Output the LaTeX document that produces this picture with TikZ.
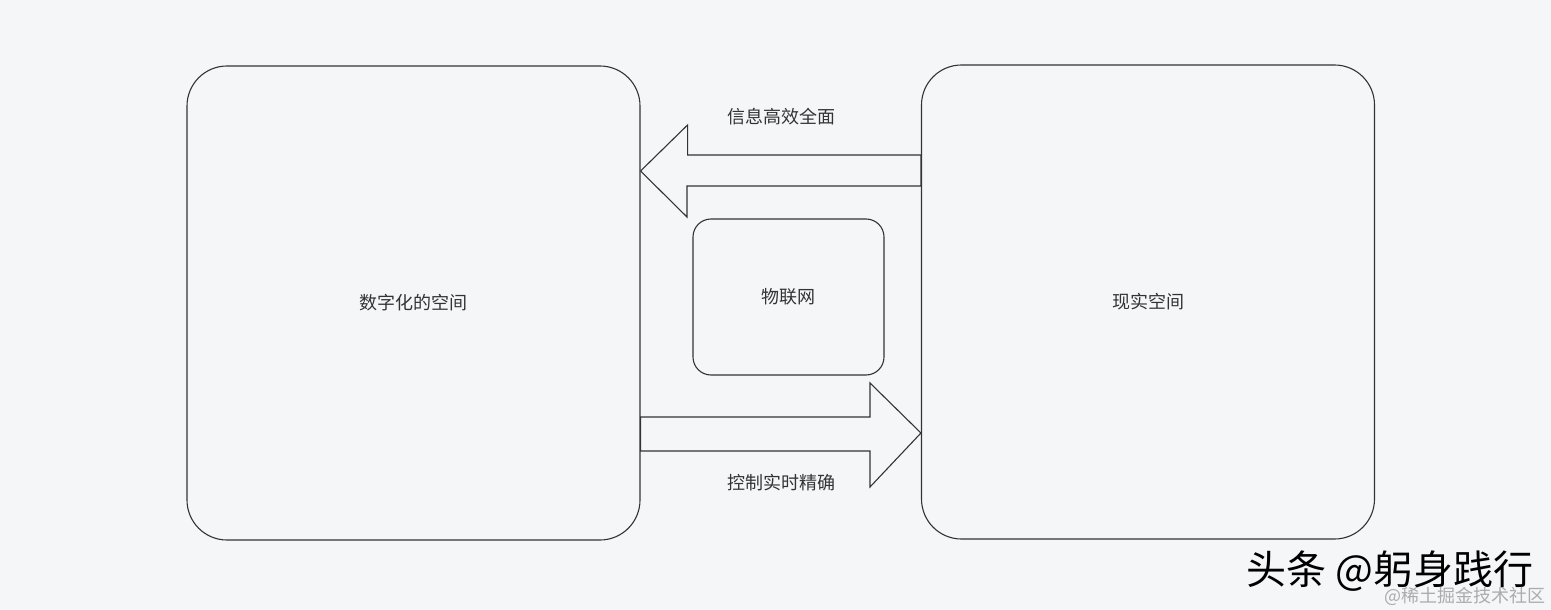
\documentclass[tikz,border=0pt]{standalone}
\usepackage{fontspec}
\setmainfont{Noto Sans CJK SC}
\newfontfamily\cjk{Noto Sans CJK SC}
\definecolor{bg}{HTML}{F5F6F7}
\definecolor{ln}{HTML}{333333}
\definecolor{tx}{HTML}{333333}
\begin{document}
\begin{tikzpicture}[x=1pt,y=-1pt,
  bigbox/.style={draw=ln,line width=1.1pt,rounded corners=40pt,minimum width=453pt,minimum height=474pt,inner sep=0pt},
  midbox/.style={draw=ln,line width=1.1pt,rounded corners=18pt,minimum width=191pt,minimum height=156pt,inner sep=0pt},
  lbl/.style={text=tx,font=\cjk\fontsize{18pt}{20pt}\selectfont,inner sep=0pt},
  fatarrow/.style={draw=ln,line width=1.1pt,fill=bg,line join=miter}]
\fill[bg] (0,0) rectangle (1551,610);
\useasboundingbox (0,0) rectangle (1551,610);
\node[bigbox] (digital) at (413.5,303) {};
\node[bigbox] (real) at (1148,302) {};
\node[midbox] (iot) at (788.5,297) {};
\node[lbl] (tdig) at (digital.center) {数字化的空间};
\node[lbl] (treal) at (real.center) {现实空间};
\node[lbl] (tiot) at (iot.center) {物联网};
% top arrow (right to left)
\coordinate (ta) at (digital.east |- 0,171);
\draw[fatarrow] (ta) -- ++(47,-46) -- ++(0,30) -- (real.west |- 0,155) -- (real.west |- 0,186) -- (687,186) -- (687,217) -- cycle;
% bottom arrow (left to right)
\coordinate (ba) at (real.west |- 0,433);
\draw[fatarrow] (digital.east |- 0,417) -- (870,417) -- (870,383) -- (ba) -- (870,487) -- (870,451) -- (digital.east |- 0,451) -- cycle;
\node[lbl] (ttop) at (781,117) {信息高效全面};
\node[lbl] (tbot) at (781,483) {控制实时精确};
% watermark
\node[text=black,font=\cjk\fontsize{40pt}{42pt}\selectfont,inner sep=0pt,anchor=west] (wm) at (1246,571) {头条 @躬身践行};
\node[text=gray!65,font=\cjk\fontsize{18pt}{19pt}\selectfont,inner sep=0pt,anchor=east] (wm2) at (1546,596) {@稀土掘金技术社区};
\end{tikzpicture}
\end{document}
